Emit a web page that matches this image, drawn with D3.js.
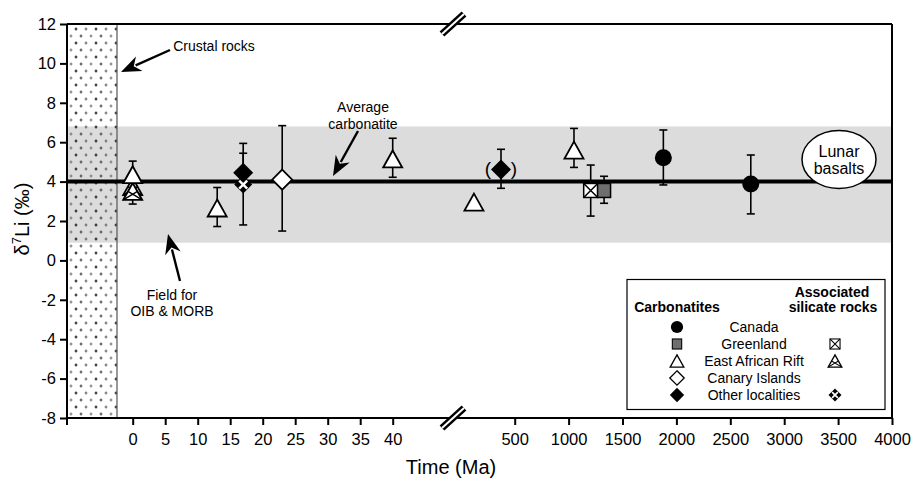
<!DOCTYPE html>
<html><head><meta charset="utf-8">
<script src="https://cdn.jsdelivr.net/npm/d3@7"></script>
<style>
body{margin:0;background:#fff;}
text{font-family:"Liberation Sans",Arial,Helvetica,sans-serif;fill:#000;}
</style></head>
<body><svg id="c" width="916" height="483"></svg>
<script>
// ---------- data ----------
const yTicks = [-8,-6,-4,-2,0,2,4,6,8,10,12];
const xTicks1 = [0,5,10,15,20,25,30,35,40];
const xTicks2 = [500,1000,1500,2000,2500,3000,3500,4000];
const avgCarbonatite = 4.0;
const oibBand = [0.9, 6.8];

// Carbonatites
const canadaAge = [1879, 2690];
const canadaLi  = [5.21, 3.88];
const canadaLo  = [3.83, 2.36];
const canadaHi  = [6.62, 5.35];

const greenlandAge = [1329];
const greenlandLi  = [3.55];
const greenlandLo  = [2.9];
const greenlandHi  = [4.27];

const earAge = [0, 13, 40, 122, 1050];
const earLi  = [4.35, 2.66, 5.15, 2.96, 5.6];
const earLo  = [2.86, 1.72, 4.22, null, 4.72];
const earHi  = [5.04, 3.7, 6.2, null, 6.7];

const canaryAge = [23];
const canaryLi  = [4.1];
const canaryLo  = [1.49];
const canaryHi  = [6.84];

const otherAge = [17, 373];
const otherLi  = [4.45, 4.62];
const otherLo  = [null, 3.66];
const otherHi  = [5.94, 5.64];

// Associated silicate rocks
const silGreenlandAge = [1205];
const silGreenlandLi  = [3.55];
const silGreenlandLo  = [2.25];
const silGreenlandHi  = [4.84];

const silEarAge = [0, 0];
const silEarLi  = [3.75, 3.5];

const silOtherAge = [17];
const silOtherLi  = [3.85];
const silOtherLo  = [1.8];
const silOtherHi  = [5.44];

const legendRows = ["Canada","Greenland","East African Rift","Canary Islands","Other localities"];

// ---------- layout ----------
const svg = d3.select("#c");
const L = 67, R = 892, T = 24, B = 418;
const crustRight = 117, breakX = 453;
const y = d3.scaleLinear().domain([-8,12]).range([B,T]);
const x1 = d3.scaleLinear().domain([0,40]).range([132.7,392.7]);
const x2 = d3.scaleLinear().domain([500,4000]).range([514.7,R]);
const xp = t => t <= 45 ? x1(t) : x2(t);

const defs = svg.append("defs");
const pat = defs.append("pattern").attr("id","dots").attr("patternUnits","userSpaceOnUse")
  .attr("x",L+4).attr("y",T+2).attr("width",20).attr("height",14);
function plus(g,cx,cy,col){
  g.append("path").attr("d",`M${cx-1.4},${cy}H${cx+1.4}M${cx},${cy-1.4}V${cy+1.4}`)
   .attr("stroke",col).attr("stroke-width",1.1);
}
plus(pat,5,3,"#111"); plus(pat,15,3,"#666"); plus(pat,10,10,"#444"); plus(pat,0,10,"#777"); plus(pat,20,10,"#777");

// gray OIB/MORB band
svg.append("rect").attr("x",L).attr("width",R-L)
  .attr("y",y(oibBand[1])).attr("height",y(oibBand[0])-y(oibBand[1])).attr("fill","#dcdcdc");
// crustal rocks band
svg.append("rect").attr("x",L).attr("y",T).attr("width",crustRight-L).attr("height",B-T).attr("fill","url(#dots)");
svg.append("line").attr("x1",crustRight).attr("x2",crustRight).attr("y1",T).attr("y2",B)
  .attr("stroke","#555").attr("stroke-width",1.2);

// average carbonatite line
svg.append("line").attr("x1",L).attr("x2",R).attr("y1",y(avgCarbonatite)).attr("y2",y(avgCarbonatite))
  .attr("stroke","#000").attr("stroke-width",4);

// ---------- error bars ----------
const eb = svg.append("g").attr("stroke","#000").attr("stroke-width",1.6);
function errbar(ages,vals,lo,hi){
  ages.forEach((a,i)=>{
    const cx = xp(a);
    const l = lo && lo[i]!=null ? lo[i] : vals[i];
    const h = hi && hi[i]!=null ? hi[i] : vals[i];
    if(l===h) return;
    eb.append("line").attr("x1",cx).attr("x2",cx).attr("y1",y(l)).attr("y2",y(h));
    if(hi && hi[i]!=null) eb.append("line").attr("x1",cx-4).attr("x2",cx+4).attr("y1",y(h)).attr("y2",y(h));
    if(lo && lo[i]!=null) eb.append("line").attr("x1",cx-4).attr("x2",cx+4).attr("y1",y(l)).attr("y2",y(l));
  });
}
errbar(canadaAge,canadaLi,canadaLo,canadaHi);
errbar(greenlandAge,greenlandLi,greenlandLo,greenlandHi);
errbar(earAge,earLi,earLo,earHi);
errbar(canaryAge,canaryLi,canaryLo,canaryHi);
errbar(otherAge,otherLi,otherLo,otherHi);
errbar(silGreenlandAge,silGreenlandLi,silGreenlandLo,silGreenlandHi);
errbar(silOtherAge,silOtherLi,silOtherLo,silOtherHi);

// ---------- markers ----------
const mk = {
  circle:(g,cx,cy)=>g.append("circle").attr("cx",cx).attr("cy",cy).attr("r",8.5).attr("fill","#000"),
  square:(g,cx,cy)=>g.append("rect").attr("x",cx-6.5).attr("y",cy-7).attr("width",13).attr("height",14)
     .attr("fill","#6e6e6e").attr("stroke","#000").attr("stroke-width",1.5),
  triangle:(g,cx,cy)=>g.append("path").attr("d",`M${cx},${cy-8.5}L${cx+9.5},${cy+8.5}L${cx-9.5},${cy+8.5}Z`)
     .attr("fill","#fff").attr("stroke","#000").attr("stroke-width",1.8).attr("stroke-linejoin","miter"),
  diamondOpen:(g,cx,cy)=>g.append("path").attr("d",`M${cx},${cy-10}L${cx+10},${cy}L${cx},${cy+10}L${cx-10},${cy}Z`)
     .attr("fill","#fff").attr("stroke","#000").attr("stroke-width",1.8),
  diamond:(g,cx,cy)=>g.append("path").attr("d",`M${cx},${cy-10}L${cx+10},${cy}L${cx},${cy+10}L${cx-10},${cy}Z`)
     .attr("fill","#000"),
  silSquare:(g,cx,cy)=>{
    g.append("rect").attr("x",cx-7).attr("y",cy-7).attr("width",14).attr("height",14)
     .attr("fill","#fff").attr("stroke","#000").attr("stroke-width",1.5);
    g.append("path").attr("d",`M${cx-7},${cy-7}L${cx+7},${cy+7}M${cx-7},${cy+7}L${cx+7},${cy-7}`)
     .attr("stroke","#000").attr("stroke-width",1.5);
  },
  silTriangle:(g,cx,cy)=>{
    g.append("path").attr("d",`M${cx},${cy-8.5}L${cx+9.5},${cy+8.5}L${cx-9.5},${cy+8.5}Z`)
     .attr("fill","#fff").attr("stroke","#000").attr("stroke-width",1.8);
    g.append("path").attr("d",`M${cx-9.5},${cy+8.5}L${cx+4.75},${cy}M${cx+9.5},${cy+8.5}L${cx-4.75},${cy}`)
     .attr("fill","none").attr("stroke","#000").attr("stroke-width",1.4);
  },
  silOther:(g,cx,cy)=>{
    g.append("path").attr("d",`M${cx},${cy-9}L${cx+9},${cy}L${cx},${cy+9}L${cx-9},${cy}Z`).attr("fill","#000");
    g.append("path").attr("d",`M${cx-4},${cy-4}L${cx+4},${cy+4}M${cx-4},${cy+4}L${cx+4},${cy-4}`)
     .attr("stroke","#fff").attr("stroke-width",2.4);
  }
};
const mg = svg.append("g");
function plot(ages,vals,kind){ ages.forEach((a,i)=>mk[kind](mg,xp(a),y(vals[i]))); }
plot(silEarAge,silEarLi,"silTriangle");
plot(earAge,earLi,"triangle");
plot(canaryAge,canaryLi,"diamondOpen");
plot(otherAge,otherLi,"diamond");
plot(silOtherAge,silOtherLi,"silOther");
plot(silGreenlandAge,silGreenlandLi,"silSquare");
plot(greenlandAge,greenlandLi,"square");
plot(canadaAge,canadaLi,"circle");
// parentheses round the second "other" point
mg.append("text").attr("x",xp(otherAge[1])-13).attr("y",y(otherLi[1])+6).attr("text-anchor","middle")
  .attr("font-size",19).attr("fill","#000").text("(");
mg.append("text").attr("x",xp(otherAge[1])+13).attr("y",y(otherLi[1])+6).attr("text-anchor","middle")
  .attr("font-size",19).attr("fill","#000").text(")");

// ---------- frame & axes ----------
const fr = svg.append("g").attr("stroke","#000").attr("fill","none");
fr.append("line").attr("x1",L).attr("x2",R).attr("y1",T).attr("y2",T).attr("stroke-width",2);
fr.append("line").attr("x1",R).attr("x2",R).attr("y1",T).attr("y2",B).attr("stroke-width",2);
fr.append("line").attr("x1",L).attr("x2",L).attr("y1",T).attr("y2",B).attr("stroke-width",2);
fr.append("line").attr("x1",L).attr("x2",R).attr("y1",B).attr("y2",B).attr("stroke-width",2);

const fmt = d => String(d);
const yAx = svg.append("g").attr("transform",`translate(${L},0)`)
  .call(d3.axisLeft(y).tickValues(yTicks).tickSize(7).tickPadding(4).tickFormat(fmt));
yAx.select(".domain").remove();
yAx.selectAll("line").attr("stroke-width",2);
yAx.selectAll("text").attr("font-size",16.5).attr("font-family","Liberation Sans, Arial, sans-serif").attr("fill","#000");

function xAxis(scale,vals){
  const g = svg.append("g").attr("transform",`translate(0,${B})`)
    .call(d3.axisBottom(scale).tickValues(vals).tickSize(7).tickPadding(8).tickFormat(fmt));
  g.select(".domain").remove();
  g.selectAll("line").attr("stroke-width",2);
  g.selectAll("text").attr("font-size",16.5).attr("font-family","Liberation Sans, Arial, sans-serif").attr("fill","#000");
}
xAxis(x1,xTicks1);
xAxis(x2,xTicks2);
svg.append("line").attr("x1",L).attr("x2",L).attr("y1",B).attr("y2",B+7).attr("stroke","#000").attr("stroke-width",2);

// axis breaks
[T,B].forEach(yy=>{
  const d = `M${breakX-11},${yy+10}L${breakX+11},${yy-10}`;
  svg.append("path").attr("d",d).attr("stroke","#000").attr("stroke-width",7);
  svg.append("path").attr("d",d).attr("stroke","#fff").attr("stroke-width",2);
});

// axis titles
svg.append("text").attr("x",451).attr("y",474).attr("text-anchor","middle").attr("font-size",20).text("Time (Ma)");
const yl = svg.append("text").attr("transform","translate(29,219) rotate(-90)").attr("text-anchor","middle").attr("font-size",20);
yl.append("tspan").text("δ");
yl.append("tspan").attr("font-size",13).attr("dy",-8).text("7");
yl.append("tspan").attr("dy",8).text("Li (‰)");

// ---------- annotations ----------
function arrow(xa,ya,xb,yb){ // tail -> tip
  const ang = Math.atan2(yb-ya,xb-xa), hl=20, hw=8;
  const bx = xb-hl*Math.cos(ang), by = yb-hl*Math.sin(ang);
  svg.append("line").attr("x1",xa).attr("y1",ya).attr("x2",bx+4*Math.cos(ang)).attr("y2",by+4*Math.sin(ang))
    .attr("stroke","#000").attr("stroke-width",2.4);
  const px=-Math.sin(ang), py=Math.cos(ang);
  const nx = xb-(hl-6)*Math.cos(ang), ny = yb-(hl-6)*Math.sin(ang);
  svg.append("path").attr("d",`M${xb},${yb}L${bx+hw*px},${by+hw*py}L${nx},${ny}L${bx-hw*px},${by-hw*py}Z`).attr("fill","#000");
}
function label(lines,cx,cy,fs,gap){
  lines.forEach((t,i)=>svg.append("text").attr("x",cx).attr("y",cy+i*gap).attr("text-anchor","middle")
    .attr("font-size",fs).attr("dominant-baseline","central").text(t));
}
label(["Crustal rocks"],214,46,14,0);
arrow(170,50,121,72);
label(["Average","carbonatite"],363,107,14,17);
arrow(358,131,333,176);
label(["Field for","OIB & MORB"],172,295,14,16);
arrow(180,281,168,234);

// lunar basalts
svg.append("ellipse").attr("cx",839).attr("cy",159.5).attr("rx",37).attr("ry",29)
  .attr("fill","#fff").attr("stroke","#000").attr("stroke-width",1.5);
label(["Lunar","basalts"],839,151,16,17);

// ---------- legend ----------
const lg = svg.append("g");
lg.append("rect").attr("x",627).attr("y",279.5).attr("width",258).attr("height",130)
  .attr("fill","#fff").attr("stroke","#000").attr("stroke-width",1.2);
lg.append("text").attr("x",677).attr("y",307).attr("text-anchor","middle").attr("dominant-baseline","central")
  .attr("font-size",14).attr("font-weight","bold").text("Carbonatites");
lg.append("text").attr("x",832).attr("y",292).attr("text-anchor","middle").attr("dominant-baseline","central")
  .attr("font-size",14).attr("font-weight","bold").text("Associated");
lg.append("text").attr("x",833).attr("y",307).attr("text-anchor","middle").attr("dominant-baseline","central")
  .attr("font-size",14).attr("font-weight","bold").text("silicate rocks");
const carbKinds = ["circle","square","triangle","diamondOpen","diamond"];
const silKinds = [null,"silSquare","silTriangle",null,"silOther"];
const lgScale = 0.72;
legendRows.forEach((name,i)=>{
  const cy = 327 + i*17;
  lg.append("text").attr("x",754).attr("y",cy).attr("text-anchor","middle").attr("dominant-baseline","central")
    .attr("font-size",14).text(name);
  const g1 = lg.append("g").attr("transform",`translate(677,${cy}) scale(${lgScale})`);
  mk[carbKinds[i]](g1,0,0);
  if(silKinds[i]){
    const g2 = lg.append("g").attr("transform",`translate(835,${cy}) scale(${lgScale})`);
    mk[silKinds[i]](g2,0,0);
  }
});
</script></body></html>
